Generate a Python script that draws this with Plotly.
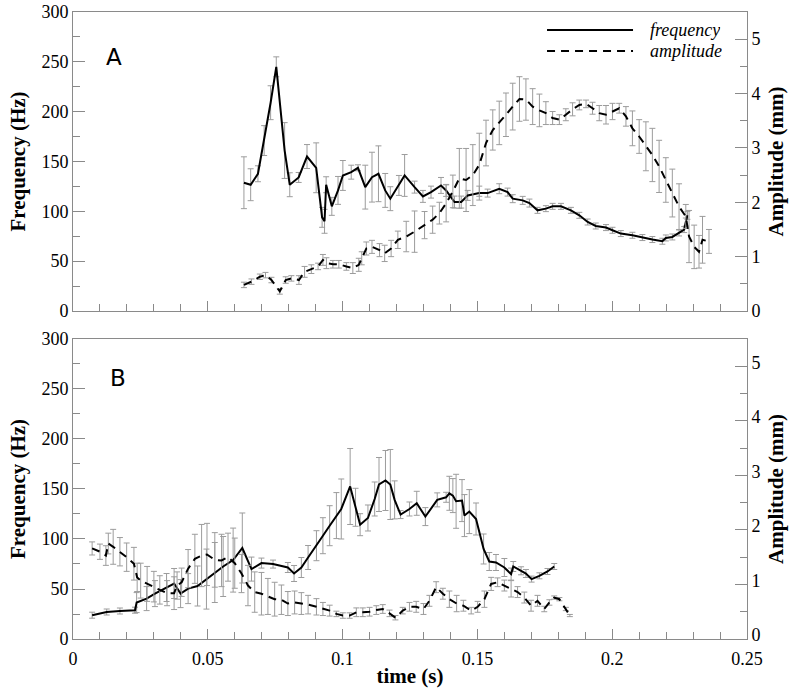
import plotly.graph_objects as go

# ---------------- Panel A data ----------------
tA_freq = [0.0634, 0.0659, 0.0686, 0.0709, 0.0733, 0.0754, 0.0785, 0.0804, 0.0837, 0.0868,
           0.0902, 0.0924, 0.0933, 0.0939, 0.0960, 0.0983, 0.1001, 0.1032, 0.1057, 0.1084,
           0.1109, 0.1133, 0.1158, 0.1177, 0.1209, 0.1230, 0.1267, 0.1298, 0.1328, 0.1365,
           0.1384, 0.1415, 0.1440, 0.1464, 0.1507, 0.1538, 0.1581, 0.1612, 0.1631, 0.1668,
           0.1693, 0.1723, 0.1754, 0.1779, 0.1810, 0.1847, 0.1878, 0.1909, 0.1939, 0.1977,
           0.2001, 0.2032, 0.2075, 0.2112, 0.2149, 0.2186, 0.2199, 0.2223, 0.2248, 0.2267,
           0.2273, 0.2279]
fA = [128.7, 126.7, 137.7, 171, 209, 245, 161, 126.7, 134, 155,
      143.7, 94, 90, 126.7, 105, 121, 136, 139.3, 143.7, 124.3,
      134.3, 137.7, 121, 112.7, 126, 136, 124.3, 115, 119.3, 126,
      121, 109.3, 109.3, 116, 118.3, 118.3, 122.7, 119.3, 112.7, 111,
      108.3, 101, 102.7, 105, 105, 101, 96, 89.3, 85.3, 83.7,
      81, 77.7, 76, 73.7, 71.7, 70, 73.3, 74.3, 78.3, 81.7,
      89.3, 96]
fA_err = [26, 16, 8, 15, 17, 10, 28, 12, 5, 12,
          25, 10, 12, 8, 9, 14, 15, 7, 3, 22,
          25, 28, 17, 12, 10, 21, 6, 6, 6, 8,
          6, 6, 6, 5, 7, 4, 5, 4, 4, 4,
          4, 3, 3, 3, 3, 3, 3, 3, 3, 3,
          3, 3, 3, 3, 3, 3, 3, 3, 3, 3,
          4, 4]

tA_amp = [0.0634, 0.0662, 0.0693, 0.0714, 0.0736, 0.0767, 0.0789, 0.0810, 0.0838, 0.0859,
          0.0884, 0.0909, 0.0927, 0.0940, 0.0964, 0.0986, 0.1014, 0.1038, 0.1060, 0.1071,
          0.1088, 0.1109, 0.1137, 0.1156, 0.1180, 0.1205, 0.1236, 0.1267, 0.1304, 0.1334,
          0.1359, 0.1384, 0.1409, 0.1433, 0.1458, 0.1483, 0.1507, 0.1532, 0.1557, 0.1581,
          0.1606, 0.1631, 0.1656, 0.1680, 0.1705, 0.1730, 0.1754, 0.1779, 0.1804, 0.1828,
          0.1853, 0.1878, 0.1903, 0.1927, 0.1952, 0.1977, 0.2001, 0.2026, 0.2051, 0.2075,
          0.2100, 0.2125, 0.2149, 0.2174, 0.2199, 0.2223, 0.2248, 0.2273, 0.2285, 0.2304,
          0.2322, 0.2335, 0.2359]
aA = [0.48, 0.54, 0.63, 0.66, 0.57, 0.36, 0.57, 0.60, 0.57, 0.72,
      0.77, 0.82, 0.94, 0.88, 0.86, 0.86, 0.82, 0.79, 0.85, 0.97,
      1.15, 1.18, 1.12, 1.06, 1.15, 1.31, 1.37, 1.46, 1.58, 1.68,
      1.80, 1.98, 2.20, 2.44, 2.41, 2.50, 2.69, 3.09, 3.33, 3.46,
      3.61, 3.76, 3.90, 3.89, 3.76, 3.69, 3.64, 3.55, 3.52, 3.61,
      3.71, 3.79, 3.81, 3.73, 3.64, 3.61, 3.67, 3.73, 3.58, 3.36,
      3.21, 3.03, 2.87, 2.66, 2.41, 2.17, 1.92, 1.74, 1.37, 1.18,
      1.09, 1.31, 1.28]
aA_err = [0.05, 0.05, 0.05, 0.05, 0.05, 0.05, 0.06, 0.05, 0.08, 0.10,
          0.08, 0.06, 0.10, 0.10, 0.07, 0.07, 0.07, 0.10, 0.12, 0.12,
          0.12, 0.12, 0.12, 0.15, 0.15, 0.16, 0.28, 0.38, 0.25, 0.25,
          0.20, 0.34, 0.30, 0.55, 0.58, 0.56, 0.58, 0.42, 0.37, 0.40,
          0.40, 0.43, 0.41, 0.38, 0.33, 0.30, 0.21, 0.12, 0.09, 0.11,
          0.12, 0.09, 0.07, 0.11, 0.14, 0.17, 0.15, 0.09, 0.18, 0.32,
          0.31, 0.45, 0.49, 0.48, 0.41, 0.44, 0.42, 0.22, 0.48, 0.40,
          0.30, 0.43, 0.22]

# ---------------- Panel B data ----------------
tB_freq = [0.0071, 0.0125, 0.0174, 0.0230, 0.0236, 0.0273, 0.0304, 0.0347, 0.0375, 0.0399,
           0.0427, 0.0462, 0.0495, 0.0526, 0.0557, 0.0594, 0.0628, 0.0662, 0.0699, 0.0742,
           0.0797, 0.0820, 0.0847, 0.0872, 0.0903, 0.0927, 0.0952, 0.0977, 0.0995, 0.1028,
           0.1048, 0.1065, 0.1094, 0.1119, 0.1135, 0.1159, 0.1177, 0.1193, 0.1215, 0.1248,
           0.1275, 0.1307, 0.1351, 0.1384, 0.1396, 0.1409, 0.1421, 0.1443, 0.1452, 0.1470,
           0.1495, 0.1523, 0.1544, 0.1569, 0.1600, 0.1625, 0.1633, 0.1662, 0.1680, 0.1701,
           0.1730, 0.1760, 0.1785]
fB = [23.8, 27, 28, 28.8, 36.4, 40.4, 45.4, 51.5, 55.5, 45.4,
      50.4, 53, 59.9, 66.5, 72.5, 78.9, 91, 69.9, 75.9, 74.9,
      71.5, 65.5, 71.5, 81.5, 93.3, 103.3, 113.3, 123.4, 130, 152.5,
      131.7, 114.3, 121, 140, 154.5, 158.5, 154.5, 139.1, 124.4, 130,
      135.7, 122.4, 139.1, 141.7, 145.7, 143.4, 137.7, 138.4, 123.4, 127.4,
      120, 90, 77.5, 76.5, 71.5, 64.9, 72.5, 68.2, 65.5, 59.9,
      63.2, 67.5, 72.5]
fB_err = [3, 3, 3, 3, 10, 12, 13, 14, 15, 14,
          15, 20, 30, 30, 30, 32, 35, 12, 5, 4,
          5, 8, 10, 12, 15, 18, 20, 23, 30, 38,
          19, 11, 13, 17, 27, 30, 35, 19, 4, 7,
          12, 9, 7, 5, 17, 17, 27, 21, 21, 22,
          16, 15, 9, 8, 9, 6, 5, 4, 4, 3,
          3, 3, 3]

tB_amp = [0.0071, 0.0100, 0.0122, 0.0131, 0.0149, 0.0174, 0.0199, 0.0226, 0.0238, 0.0251,
          0.0275, 0.0300, 0.0322, 0.0349, 0.0375, 0.0386, 0.0403, 0.0427, 0.0452, 0.0477,
          0.0497, 0.0526, 0.0551, 0.0575, 0.0600, 0.0625, 0.0649, 0.0674, 0.0699, 0.0723,
          0.0748, 0.0773, 0.0797, 0.0822, 0.0847, 0.0872, 0.0903, 0.0927, 0.0952, 0.0977,
          0.1001, 0.1026, 0.1051, 0.1075, 0.1100, 0.1125, 0.1149, 0.1174, 0.1196, 0.1223,
          0.1248, 0.1273, 0.1300, 0.1322, 0.1347, 0.1372, 0.1396, 0.1423, 0.1448, 0.1477,
          0.1501, 0.1526, 0.1551, 0.1575, 0.1600, 0.1625, 0.1649, 0.1674, 0.1699, 0.1723,
          0.1748, 0.1767, 0.1785, 0.1804, 0.1828, 0.1843]
aB = [1.66, 1.60, 1.53, 1.75, 1.69, 1.60, 1.50, 1.38, 1.13, 1.07,
      1.01, 0.96, 0.90, 0.84, 0.84, 0.98, 1.04, 1.29, 1.47, 1.53,
      1.55, 1.45, 1.44, 1.50, 1.39, 1.20, 0.98, 0.86, 0.83, 0.78,
      0.73, 0.72, 0.65, 0.67, 0.65, 0.63, 0.59, 0.55, 0.52, 0.46,
      0.43, 0.43, 0.49, 0.49, 0.50, 0.53, 0.55, 0.47, 0.39, 0.52,
      0.59, 0.59, 0.55, 0.70, 0.95, 0.83, 0.73, 0.65, 0.61, 0.52,
      0.59, 0.73, 1.01, 1.04, 0.98, 0.92, 0.86, 0.76, 0.61, 0.70,
      0.55, 0.67, 0.76, 0.73, 0.55, 0.43]
aB_err = [0.12, 0.14, 0.18, 0.19, 0.32, 0.26, 0.26, 0.30, 0.26, 0.32,
          0.32, 0.28, 0.26, 0.23, 0.30, 0.25, 0.26, 0.35, 0.45, 0.57,
          0.57, 0.50, 0.48, 0.44, 0.46, 0.35, 0.37, 0.37, 0.39, 0.33,
          0.31, 0.27, 0.22, 0.21, 0.20, 0.17, 0.15, 0.12, 0.10, 0.05,
          0.05, 0.05, 0.08, 0.08, 0.08, 0.08, 0.08, 0.06, 0.04, 0.06,
          0.08, 0.10, 0.10, 0.10, 0.10, 0.10, 0.15, 0.15, 0.10, 0.06,
          0.10, 0.15, 0.12, 0.08, 0.10, 0.15, 0.10, 0.10, 0.10, 0.10,
          0.05, 0.05, 0.03, 0.03, 0.03, 0.02]

legend_labels = ["frequency", "amplitude"]
panel_labels = ["A", "B"]

# ---------------- styling ----------------
SERIF = "Times New Roman, Liberation Serif, DejaVu Serif, serif"
AXC = "#8a8a8a"
ERRC = "#9c9c9c"
DASH = "8px,6px"

fig = go.Figure()

def err(vals):
    return dict(type="data", array=vals, visible=True, color=ERRC, thickness=1, width=3)

fig.add_trace(go.Scatter(x=tA_freq, y=fA, error_y=err(fA_err), mode="lines",
                         line=dict(color="black", width=2), xaxis="x", yaxis="y",
                         name=legend_labels[0], showlegend=False))
fig.add_trace(go.Scatter(x=tA_amp, y=aA, error_y=err(aA_err), mode="lines",
                         line=dict(color="black", width=2, dash=DASH), xaxis="x", yaxis="y2",
                         name=legend_labels[1], showlegend=False))
fig.add_trace(go.Scatter(x=tB_freq, y=fB, error_y=err(fB_err), mode="lines",
                         line=dict(color="black", width=2), xaxis="x2", yaxis="y3",
                         name=legend_labels[0], showlegend=False))
fig.add_trace(go.Scatter(x=tB_amp, y=aB, error_y=err(aB_err), mode="lines",
                         line=dict(color="black", width=2, dash=DASH), xaxis="x2", yaxis="y4",
                         name=legend_labels[1], showlegend=False))

tickfont = dict(family=SERIF, size=18, color="black")
titlefont = dict(family=SERIF, size=21, color="black", weight="bold")

def xax(anchor, show_labels):
    return dict(range=[0, 0.25], dtick=0.05, tick0=0, ticks="inside", ticklen=10, tickwidth=1,
                tickcolor=AXC, showline=True, linecolor=AXC, linewidth=1, mirror=True,
                showgrid=False, zeroline=False, anchor=anchor, domain=[0, 1],
                showticklabels=show_labels, tickfont=tickfont,
                minor=dict(dtick=0.01, tick0=0, ticks="inside", ticklen=7, tickcolor=AXC,
                           showgrid=False))

def yleft(anchor, dom):
    return dict(range=[0, 300], dtick=50, tick0=0, ticks="inside", ticklen=12, tickwidth=1,
                tickcolor=AXC, showline=True, linecolor=AXC, linewidth=1,
                showgrid=False, zeroline=False, anchor=anchor, domain=dom,
                tickfont=tickfont, title=dict(text="Frequency (Hz)", font=titlefont, standoff=10),
                minor=dict(dtick=25, tick0=0, ticks="inside", ticklen=7, tickcolor=AXC,
                           showgrid=False))

def yright(anchor, over, shift=0):
    return dict(range=[0, 5.5], dtick=1, tick0=0, ticks="inside", ticklen=12, tickwidth=1,
                tickcolor=AXC, showline=True, linecolor=AXC, linewidth=1,
                showgrid=False, zeroline=False, anchor=anchor, overlaying=over, side="right",
                tickfont=tickfont, ticklabelshift=shift,
                title=dict(text="Amplitude (mm)", font=titlefont, standoff=8),
                minor=dict(dtick=0.5, tick0=0, ticks="inside", ticklen=7, tickcolor=AXC,
                           showgrid=False))

xA = xax("y", False)
xB = xax("y3", True)
xB["title"] = dict(text="time (s)", font=titlefont, standoff=0)
xB["ticklabelstandoff"] = 3

fig.update_layout(
    width=800, height=690,
    margin=dict(l=73, r=53, t=12, b=51, autoexpand=False),
    paper_bgcolor="white", plot_bgcolor="white",
    showlegend=False,
    xaxis=xA,
    xaxis2=xB,
    yaxis=yleft("x", [0.5231, 1.0]),
    yaxis2=yright("x", "y"),
    yaxis3=yleft("x2", [0.0, 0.4785]),
    yaxis4=yright("x2", "y3", shift=-4),
)

# panel labels
fig.add_annotation(text=panel_labels[0], xref="paper", yref="paper", x=0.046, y=0.952,
                   showarrow=False, font=dict(family="DejaVu Sans", size=23, color="black"))
fig.add_annotation(text=panel_labels[1], xref="paper", yref="paper", x=0.052, y=0.416,
                   showarrow=False, font=dict(family="DejaVu Sans", size=23, color="black"))

# legend (line samples + italic labels)
leg_y = [0.9713, 0.9378]
fig.add_shape(type="line", xref="paper", yref="paper", x0=0.7033, x1=0.8309, y0=leg_y[0], y1=leg_y[0],
              line=dict(color="black", width=2))
fig.add_shape(type="line", xref="paper", yref="paper", x0=0.7033, x1=0.8309, y0=leg_y[1], y1=leg_y[1],
              line=dict(color="black", width=2, dash=DASH))
for lab, yy in zip(legend_labels, leg_y):
    fig.add_annotation(text=lab, xref="paper", yref="paper", x=0.853, y=yy, xanchor="left",
                       yanchor="middle", showarrow=False, height=20,
                       font=dict(family=SERIF, size=18, color="black", style="italic"))

fig.write_html("out.html", config={"displayModeBar": False},
               post_script="document.body.style.margin='0';document.body.style.padding='0';")
